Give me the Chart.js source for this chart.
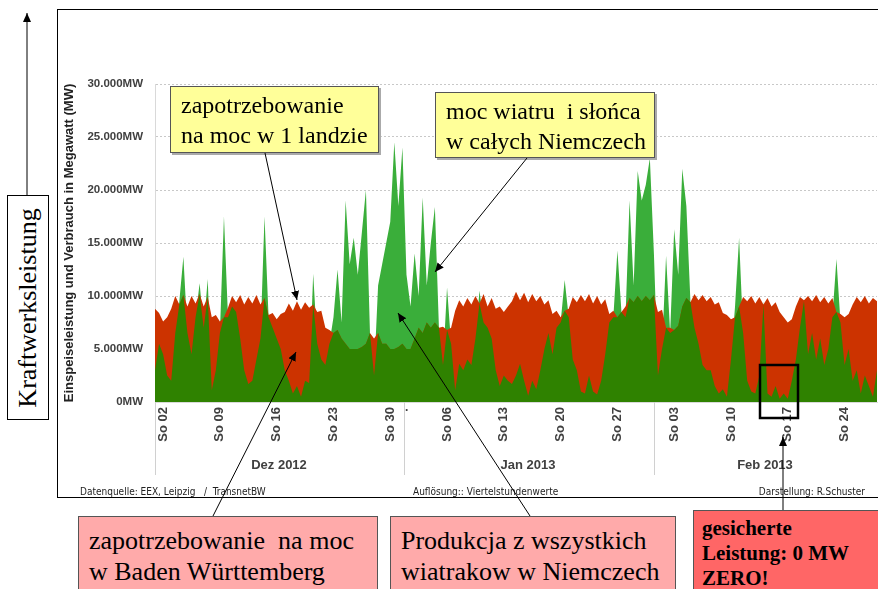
<!DOCTYPE html>
<html>
<head>
<meta charset="utf-8">
<script src="https://cdn.jsdelivr.net/npm/chart.js@4"></script>
<style>
  html, body { margin: 0; padding: 0; }
  body { width: 878px; height: 589px; overflow: hidden; position: relative; background: #fff; font-family: "Liberation Sans", Arial, sans-serif; }
  .abs { position: absolute; }
  #frame { left: 57px; top: 9px; width: 900px; height: 487px; border: 1px solid #000; }
  #wrap { left: 57px; top: 10px; width: 821px; height: 487px; }
  .month { top: 457px; font: bold 13px "Liberation Sans", Arial, sans-serif; color: #404040; width: 100px; text-align: center; }
  .foot { top: 486px; font: 10px "Liberation Sans Narrow", "DejaVu Sans Condensed", sans-serif; color: #222; white-space: pre; }
  .yellow { background: #ffff99; border: 1px solid #555; box-shadow: 2px 2px 0 #aaa; font: 24px "Liberation Serif", "Times New Roman", serif; line-height: 30px; padding: 3px 0 0 10px; box-sizing: border-box; color: #000; white-space: pre; }
  .pink { background: #ffaaaa; border: 1px solid #555; font: 26px "Liberation Serif", "Times New Roman", serif; line-height: 31px; padding: 8px 0 0 10px; box-sizing: border-box; color: #000; white-space: pre; }
  .red { background: #ff6666; border: 1px solid #555; font: bold 21px "Liberation Serif", "Times New Roman", serif; line-height: 25px; padding: 0 0 0 8px; box-sizing: border-box; color: #000; white-space: pre; }
  #kw { left: 7px; top: 195px; width: 42px; height: 225px; border: 1px solid #000; box-sizing: border-box; }
  #kw span { position: absolute; left: 50%; top: 50%; transform: translate(-50%, -50%) rotate(-90deg); font: 26px "Liberation Serif", "Times New Roman", serif; white-space: nowrap; }
</style>
</head>
<body>
<div id="frame" class="abs"></div>
<div id="wrap" class="abs"><canvas id="chart" width="821" height="487"></canvas></div>

<div class="abs month" style="left:229px;">Dez 2012</div>
<div class="abs month" style="left:478px;">Jan 2013</div>
<div class="abs month" style="left:715px;">Feb 2013</div>
<div class="abs" style="left:405px; top:400px; font: bold 12px Arial; color:#404040;">.</div>

<div class="abs foot" style="left:80px;">Datenquelle: EEX, Leipzig   /  TransnetBW</div>
<div class="abs foot" style="left:413px;">Auflösung:: Viertelstundenwerte</div>
<div class="abs foot" style="right:13px;">Darstellung: R.Schuster</div>

<div id="kw" class="abs"><span>Kraftwerksleistung</span></div>

<div class="abs yellow" style="left:170px; top:86px; width:209px; height:67px;">zapotrzebowanie
na moc w 1 landzie</div>
<div class="abs yellow" style="left:435px; top:92px; width:220px; height:66px;">moc wiatru  i słońca
w całych Niemczech</div>

<div class="abs pink" style="left:78px; top:516px; width:300px; height:90px;">zapotrzebowanie  na moc
w Baden Württemberg</div>
<div class="abs pink" style="left:390px; top:516px; width:286px; height:90px;">Produkcja z wszystkich
wiatrakow w Niemczech</div>
<div class="abs red" style="left:693px; top:510px; width:200px; height:90px; padding-top:5px;">gesicherte
Leistung: 0 MW
ZERO!</div>

<svg class="abs" style="left:0; top:0;" width="878" height="589">
  <defs>
    <marker id="ah" markerUnits="userSpaceOnUse" markerWidth="10" markerHeight="10" refX="9" refY="4" orient="auto">
      <path d="M0,0 L9,4 L0,8 z" fill="#000"/>
    </marker>
  </defs>
  <g stroke="#000" stroke-width="1" fill="none">
    <line x1="27" y1="195" x2="27" y2="13" marker-end="url(#ah)"/>
    <line x1="265" y1="153" x2="297" y2="300" marker-end="url(#ah)"/>
    <line x1="213" y1="516" x2="296" y2="352" marker-end="url(#ah)"/>
    <line x1="527" y1="158" x2="435" y2="272" marker-end="url(#ah)"/>
    <line x1="530" y1="516" x2="398" y2="313" marker-end="url(#ah)"/>
    <line x1="783" y1="510" x2="783" y2="437" marker-end="url(#ah)"/>
  </g>
  <rect x="760" y="365" width="38" height="53" fill="none" stroke="#000" stroke-width="2.5"/>
</svg>

<script>
// Zeitachse: halbtaegige Werte ab 01.12.2012 00:00 (Index/2 = Tag)
const verbrauchBW = [
  8800, 8400, 7600, 8000, 8800, 10000, 9200, 10100, 9000, 10000,
  9300, 10200, 9000, 9900, 8000, 8200, 7600, 8000, 8900, 10000,
  9400, 10100, 9200, 9900, 9300, 10100, 9200, 9800, 8200, 8400,
  7800, 8300, 8500, 9300, 8600, 9500, 8700, 9400, 8900, 9200,
  8500, 8600, 7000, 6800, 6500, 6800, 6000, 5500, 5000, 5000,
  5000, 5200, 5500, 6500, 6000, 6500, 5500, 5500, 5000, 5000,
  5200, 5500, 5000, 5000, 6000, 7000, 6500, 7500, 7000, 7500,
  7000, 7100, 6800, 7000, 8600, 9600, 9000, 9800, 9200, 10000,
  9300, 10200, 9000, 9800, 8800, 9000, 8500, 9000, 9500, 10400,
  9600, 10300, 9400, 10200, 9500, 10000, 9200, 9600, 8300, 8600,
  8000, 8600, 8800, 9900, 9400, 10100, 9500, 10200, 9300, 10000,
  9200, 9700, 8300, 8600, 8000, 8500, 9000, 9800, 9400, 10000,
  9500, 10000, 9600, 10100, 8500, 8700, 7000, 7000, 6800, 7200,
  9000, 9800, 9400, 10200, 9600, 10100, 9500, 9900, 9200, 9400,
  8400, 8200, 7800, 8000, 9000, 9900, 9500, 10000, 9300, 9900,
  9200, 9800, 9000, 9400, 8500, 8000, 7500, 7800, 9000, 9900,
  9600, 10000, 9500, 10100, 9400, 9900, 9300, 9800, 8500, 8300,
  8000, 8300, 9200, 9900, 9400, 10000, 9300, 9800, 9500
];

const windSolarDE = [
  3000, 5500, 4500, 2500, 2000, 6500, 9500, 13700, 6500, 4500,
  8000, 11200, 7000, 11600, 1100, 3000, 6500, 17500, 8000, 9000,
  8500, 6000, 3000, 1700, 2000, 4000, 6000, 17500, 8000, 7000,
  6000, 5000, 3000, 2000, 800, 1500, 500, 2000, 1800, 12100,
  5500, 4000, 3500, 5500, 8000, 12500, 7500, 19000, 13000, 15500,
  12000, 16000, 20000, 6500, 2500, 11000, 13000, 15000, 17000, 24500,
  18500, 24000, 12000, 9000, 14000, 10000, 19300, 11000, 15000, 18400,
  7000, 3500, 10800, 5500, 1100, 3600, 3000, 4000, 3500, 6000,
  10500, 7500, 7000, 6000, 3000, 1500, 2500, 2000, 1700, 2500,
  3600, 2000, 600, 2000, 1200, 3000, 5000, 6500, 4500, 7000,
  7500, 11500, 8000, 4000, 3000, 1000, 800, 2500, 1000, 700,
  2000, 4500, 7500, 8000, 14300, 8500, 8000, 19000, 11000, 21800,
  19000, 20500, 23000, 14000, 2500, 5000, 13800, 6500, 16300, 12000,
  22000, 18500, 9500, 7000, 5500, 3500, 3000, 3000, 1500, 800,
  1200, 500, 4000, 9000, 15500, 6500, 2000, 1000, 800, 2500,
  9500, 800, 500, 1500, 300, 800, 300, 2000, 4000, 7000,
  9500, 4500, 6500, 4000, 6000, 3500, 5000, 8000, 13500, 7500,
  3500, 5000, 2000, 3000, 800, 2500, 1500, 500, 3000
];

// Sonntage (Tag ab 01.12.2012) und ihre Beschriftung
const sonntage = [1, 8, 15, 22, 29, 36, 43, 50, 57, 64, 71, 78, 85];
const tickLabels = ["So 02", "So 09", "So 16", "So 23", "So 30", "So 06", "So 13",
  "So 20", "So 27", "So 03", "So 10", "So 17", "So 24"];
const monatsTrenner = [0, 30.7, 61.5];
const yTicks = [0, 5000, 10000, 15000, 20000, 25000, 30000];

const RED = "#cc3300";
const GREEN_DARK = "#2f8200";
const GREEN_LIGHT = "#3aae3a";

const pts = (arr) => arr.map((v, i) => ({ x: i / 2, y: v }));
const gedeckt = windSolarDE.map((w, i) => Math.min(w, verbrauchBW[i]));

/* =========================
   Monatstrenner unter der Achse
========================= */
const trennerPlugin = {
  id: "trenner",
  afterDraw(chart) {
    const { ctx, chartArea, scales } = chart;
    ctx.save();
    ctx.strokeStyle = "#d0d0d0";
    ctx.lineWidth = 1;
    monatsTrenner.forEach((v) => {
      const px = Math.round(scales.x.getPixelForValue(v)) + 0.5;
      ctx.beginPath();
      ctx.moveTo(px, chartArea.bottom);
      ctx.lineTo(px, chartArea.bottom + 73);
      ctx.stroke();
    });
    ctx.restore();
  },
};

const area = (data, color, order) => ({
  data: pts(data),
  backgroundColor: color,
  borderWidth: 0,
  pointRadius: 0,
  fill: "origin",
  tension: 0,
  order,
});

new Chart(document.getElementById("chart"), {
  type: "line",
  data: {
    datasets: [
      area(windSolarDE, GREEN_LIGHT, 3),
      area(verbrauchBW, RED, 2),
      area(gedeckt, GREEN_DARK, 1),
    ],
  },
  options: {
    responsive: false,
    animation: false,
    devicePixelRatio: 1,
    events: [],
    layout: { padding: { left: 0, right: 1, top: 74, bottom: 0 } },
    plugins: { legend: { display: false }, tooltip: { enabled: false } },
    scales: {
      x: {
        type: "linear",
        min: 0,
        max: 89,
        afterBuildTicks: (s) => { s.ticks = sonntage.map((v) => ({ value: v })); },
        afterFit: (s) => { s.height = 95; },
        grid: { display: false, drawTicks: false },
        border: { color: "#d9d9d9" },
        ticks: {
          minRotation: 90,
          maxRotation: 90,
          autoSkip: false,
          padding: 5,
          color: "#404040",
          font: { family: "Liberation Sans", size: 13, weight: "bold" },
          callback: (v) => tickLabels[sonntage.indexOf(v)] || "",
        },
      },
      y: {
        min: 0,
        max: 30000,
        afterBuildTicks: (s) => { s.ticks = yTicks.map((v) => ({ value: v })); },
        afterFit: (s) => { s.width = 98; },
        grid: { color: "#c8c8c8", drawTicks: false },
        border: { color: "#d9d9d9", dash: [2, 2] },
        ticks: {
          padding: 12,
          color: "#404040",
          font: { family: "Liberation Sans", size: 11.5, weight: "bold" },
          callback: (v) => (v === 0 ? "0MW" : v / 1000 + ".000MW"),
        },
        title: {
          display: true,
          text: "Einspeiseleistung und Verbrauch in Megawatt (MW)",
          color: "#222",
          padding: { top: 5, bottom: 0 },
          font: { family: "Liberation Sans", size: 13, weight: "bold" },
        },
      },
    },
  },
  plugins: [trennerPlugin],
});
</script>
</body>
</html>
